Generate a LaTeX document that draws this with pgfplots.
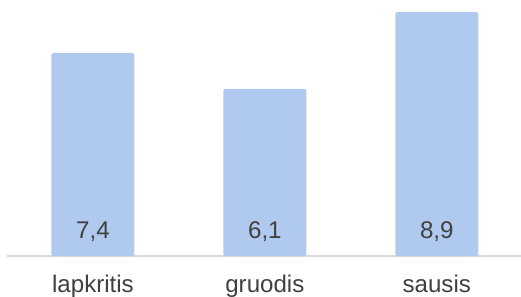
\documentclass[border=0pt]{standalone}
\usepackage{pgfplots}
\usepackage{pgfplotstable}
\usepackage{fontspec}
\setmainfont{Liberation Sans}
\pgfplotsset{compat=1.18}
\definecolor{barblue}{HTML}{B0C9EE}
\definecolor{txtgray}{HTML}{404040}
\definecolor{axgray}{HTML}{D9D9D9}
\pgfplotstableread{
x y
0 7.4
1 6.1
2 8.9
}\data
\pgfplotstableread{
x y v
0 0 7.4
1 0 6.1
2 0 8.9
}\labels
\begin{document}
\begin{tikzpicture}
\begin{axis}[
  name=ax,
  scale only axis,
  width=514bp, height=256bp,
  xmin=-0.5, xmax=2.49,
  ymin=0, ymax=9.343,
  axis x line*=bottom,
  axis y line=none,
  x axis line style={axgray, line width=1.2bp},
  xtick=data,
  xticklabels={lapkritis,gruodis,sausis},
  major tick length=0pt,
  xticklabel style={anchor=base, yshift=-36bp, text=txtgray, font=\fontsize{24.2}{28}\selectfont},
  clip=false,
]
\addplot[ybar, bar width=83bp, bar shift=0pt, fill=barblue, draw=none, rounded corners=1.5bp] table[x=x, y=y] {\data};
\addplot[draw=none, mark=none, nodes near coords, point meta=explicit,
  nodes near coords={\pgfmathprintnumber[fixed, fixed zerofill, precision=1, use comma, assume math mode=true]{\pgfplotspointmeta}},
  every node near coord/.style={anchor=base, yshift=18bp, inner sep=0pt, text=txtgray, font=\fontsize{24.2}{28}\selectfont}]
  table[x=x, y=y, meta=v] {\labels};
\end{axis}
\pgfresetboundingbox
\path (ax.south west) ++(-7bp,-40bp) rectangle (ax.north east);
\end{tikzpicture}
\end{document}
